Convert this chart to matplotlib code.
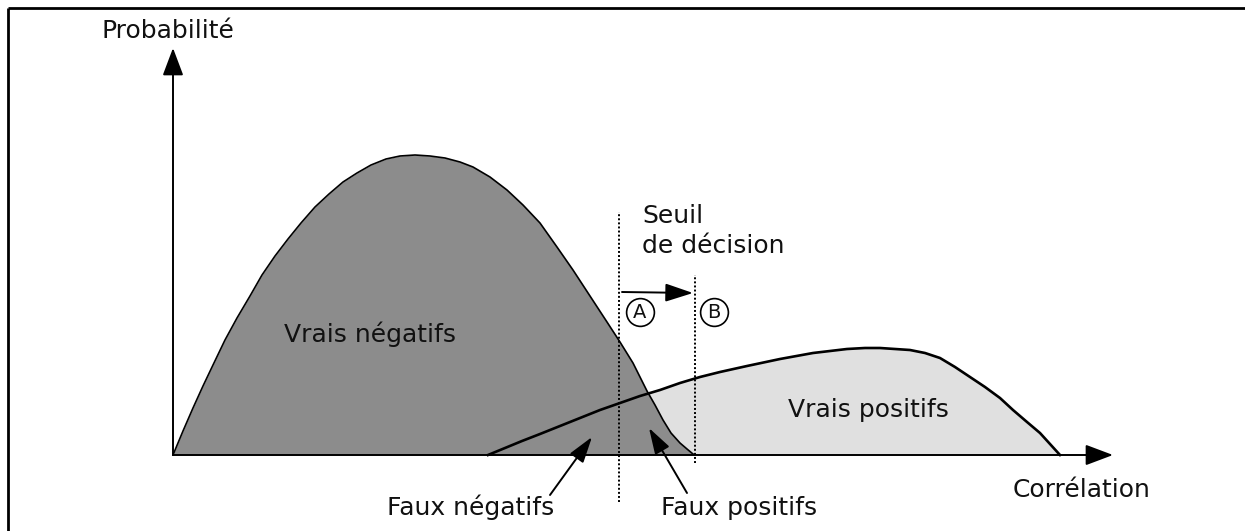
import matplotlib
matplotlib.use("Agg")
import matplotlib.pyplot as plt

# --- Data (arbitrary units: correlation 0..940, probability 0..407) ---
neg_x = [0, 10, 20, 30, 40, 52, 64, 77, 89, 102, 115, 128, 142, 156, 170, 184,
         198, 213, 227, 242, 257, 272, 287, 300, 317, 334, 350, 367, 384, 400,
         417, 434, 447, 460, 474, 482, 490, 498, 507, 514, 520, 522]
neg_y = [0, 24, 47, 69, 90, 115, 137, 159, 180, 199, 216, 232, 248, 261, 273,
         282, 290, 296, 299, 300, 299, 297, 293, 288, 278, 265, 250, 232, 208,
         185, 159, 133, 113, 92, 64, 50, 35, 22, 12, 6, 1, 0]

pos_x = [315, 332, 349, 367, 387, 407, 427, 447, 467, 487, 507, 527, 547, 574,
         607, 640, 657, 674, 692, 707, 722, 737, 752, 767, 782, 797, 812, 827,
         840, 854, 867, 877, 887]
pos_y = [0, 7, 14, 21, 29, 37, 45, 52, 59, 65, 72, 78, 83, 89, 96, 102, 104,
         106, 107, 107, 106, 105, 102, 97, 88, 78, 68, 57, 45, 33, 22, 11, 0]

seuil_a = 446
seuil_b = 522
x_end = 940
y_end = 407

DARK = "#8c8c8c"
LIGHT = "#e0e0e0"
TXT = "#111111"

fig = plt.figure(figsize=(12.45, 5.31), dpi=100)
ax = fig.add_axes([0, 0, 1, 1])
ax.set_xlim(-173, 1072)
ax.set_ylim(-76, 455)
ax.axis("off")

# frame (top and left only)
ax.plot([8 / 1245, 1], [1 - 8 / 531, 1 - 8 / 531], color="black", lw=2.0,
        transform=ax.transAxes, clip_on=False, solid_capstyle="butt")
ax.plot([8 / 1245, 8 / 1245], [0, 1 - 8 / 531], color="black", lw=2.0,
        transform=ax.transAxes, clip_on=False, solid_capstyle="butt")

# distributions
ax.fill_between(pos_x, pos_y, 0, color=LIGHT, lw=0, zorder=1)
ax.fill_between(neg_x, neg_y, 0, color=DARK, lw=0, zorder=2)
ax.plot(neg_x, neg_y, color="black", lw=1.2, zorder=4, solid_joinstyle="round")
ax.plot(pos_x, pos_y, color="black", lw=1.9, zorder=4, solid_joinstyle="round")

# axes with arrows
axis_arrow = dict(arrowstyle="-|>,head_length=0.85,head_width=0.32",
                  mutation_scale=20, color="black", lw=1.4,
                  shrinkA=0, shrinkB=0)
ax.annotate("", xy=(0, y_end), xytext=(0, 0), arrowprops=axis_arrow, zorder=5)
ax.annotate("", xy=(x_end, 0), xytext=(0, 0), arrowprops=axis_arrow, zorder=5)

# decision thresholds
dots = (0, (1, 1.1))
ax.plot([seuil_a, seuil_a], [-47, 243], color="black", lw=1.4, ls=dots, zorder=5)
ax.plot([seuil_b, seuil_b], [-8, 180], color="black", lw=1.4, ls=dots, zorder=5)
ax.annotate("", xy=(seuil_b - 2, 162), xytext=(seuil_a + 3, 163),
            arrowprops=dict(arrowstyle="-|>,head_length=0.85,head_width=0.28",
                            mutation_scale=20, color="black", lw=1.4,
                            shrinkA=0, shrinkB=0), zorder=5)

for cx, letter in [(467, "A"), (541, "B")]:
    ax.plot([cx], [143], marker="o", ms=20, mfc="white", mec="black",
            mew=1.2, zorder=6)
    ax.text(cx, 143, letter, ha="center", va="center", fontsize=14,
            color=TXT, zorder=7)

# pointer arrows
ptr = dict(arrowstyle="-|>,head_length=0.8,head_width=0.25", mutation_scale=20,
           color="black", lw=1.4, shrinkA=0, shrinkB=0)
ax.annotate("", xy=(419, 18), xytext=(377, -40), arrowprops=ptr, zorder=6)
ax.annotate("", xy=(476, 27), xytext=(514, -38), arrowprops=ptr, zorder=6)

# labels
fs = 18
ax.text(-5, 417, "Probabilité", ha="center", va="baseline", fontsize=fs, color=TXT)
ax.text(909, -42, "Corrélation", ha="center", va="baseline", fontsize=fs, color=TXT)
ax.text(469, 232, "Seuil", ha="left", va="baseline", fontsize=fs, color=TXT)
ax.text(469, 202, "de décision", ha="left", va="baseline", fontsize=fs, color=TXT)
ax.text(197, 113, "Vrais négatifs", ha="center", va="baseline", fontsize=fs,
        color=TXT, zorder=5)
ax.text(695, 38, "Vrais positifs", ha="center", va="baseline", fontsize=fs,
        color=TXT, zorder=5)
ax.text(298, -60, "Faux négatifs", ha="center", va="baseline", fontsize=fs, color=TXT)
ax.text(566, -60, "Faux positifs", ha="center", va="baseline", fontsize=fs, color=TXT)

fig.savefig("out.png", dpi=100, facecolor="white")
